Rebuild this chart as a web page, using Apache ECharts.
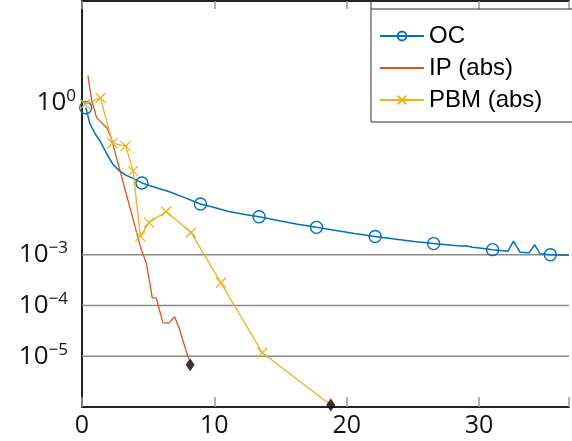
<!DOCTYPE html>
<html><head><meta charset="utf-8">
<script src="https://cdn.jsdelivr.net/npm/echarts@6/dist/echarts.min.js"></script>
<style>html,body{margin:0;padding:0;background:#fff}#c{width:572px;height:441px}</style>
</head><body><div id="c"></div>
<script>
// ---- data ----
const ocX = [0.28,0.35,0.6,1.0,1.35,1.85,2.35,2.8,3.3,3.86,4.53,5.5,6.6,7.8,8.95,10.0,11.1,12.2,13.38,14.9,16.3,17.72,19.2,20.6,22.15,23.6,25.1,26.57,27.8,28.6,29.0,29.5,30.2,31.03,32.18,32.6,33.1,33.8,34.2,34.6,35.39,36.8];
const ocY = [0.79,0.69,0.38,0.24,0.178,0.100,0.060,0.046,0.037,0.032,0.026,0.0214,0.0174,0.0132,0.0100,0.0085,0.0071,0.0063,0.0056,0.0047,0.0040,0.00347,0.00302,0.00263,0.00229,0.00204,0.00182,0.00166,0.00155,0.00148,0.00151,0.00141,0.00135,0.00126,0.00117,0.00186,0.00112,0.00110,0.00158,0.00105,0.00100,0.00098];
const ocMarked = [0,10,14,18,21,24,27,33,40];

const ipX = [0.45,0.73,1.1,1.55,1.9,2.23,4.48,4.86,5.31,5.61,6.11,6.56,7.0,7.37,8.07];
const ipY = [3.4,1.10,0.51,0.38,0.316,0.19,0.00126,0.00069,0.000141,0.000141,0.000046,0.000045,0.000060,0.000034,0.0000087];
const ipEnd = [8.17, 0.0000068];

const pbmX = [0.23,1.4,2.3,3.3,3.86,4.41,5.06,6.36,8.24,10.5,13.63,18.8];
const pbmY = [0.93,1.23,0.158,0.138,0.045,0.0023,0.0043,0.0071,0.00275,0.00028,0.0000117,0.0000011];
const pbmEnd = [18.8, 0.0000011];

const xTicks = [0,10,20,30];
const xRange = [0, 36.8];
const yLabelExps = [0,-3,-4,-5];
const gridValues = [1e-3,1e-4,1e-5];
const names = ['OC','IP (abs)','PBM (abs)'];

// ---- build ----
const ocData = ocX.map((x,i)=> ocMarked.includes(i) ? [x,ocY[i]] : {value:[x,ocY[i]], symbol:'none'});
const ipData = ipX.map((x,i)=>[x,ipY[i]]);
const pbmData = pbmX.map((x,i)=> i===pbmX.length-1 ? {value:[x,pbmY[i]], symbol:'none'} : [x,pbmY[i]]);
const crossPath = 'path://M0,0L10,10M10,0L0,10';
const labelFont = 'Open Sans';

const gridSeries = gridValues.map(v=>({
  name:'grid'+v, type:'line', data:[[xRange[0],v],[xRange[1],v]], symbol:'none', silent:true,
  lineStyle:{color:'#8a8a8a', width:1.5}, z:1
}));

const chart = echarts.init(document.getElementById('c'), null, {renderer:'canvas'});
chart.setOption({
  animation:false,
  backgroundColor:'#fff',
  grid:{left:82, right:0, top:1, bottom:34},
  xAxis:[{
    type:'value', min:xRange[0], max:xRange[1], interval:10,
    axisLine:{show:true, onZero:false, lineStyle:{color:'#222', width:2}},
    axisTick:{show:true, inside:true, length:10, lineStyle:{color:'#999', width:1.5}},
    axisLabel:{show:true, margin:6, fontSize:25, fontFamily:labelFont, color:'#111',
      formatter:v=> xTicks.includes(v) ? String(v) : ''},
    splitLine:{show:false}
  },{
    type:'value', position:'top', min:xRange[0], max:xRange[1], interval:10,
    axisLine:{show:true, onZero:false, lineStyle:{color:'#222', width:2}},
    axisTick:{show:true, inside:true, length:8, lineStyle:{color:'#999', width:1.5}},
    axisLabel:{show:false}, splitLine:{show:false}
  }],
  yAxis:{
    type:'log', logBase:10, min:1e-6, max:1e2,
    axisLine:{show:true, onZero:false, lineStyle:{color:'#222', width:2}},
    axisTick:{show:false},
    splitLine:{show:false},
    axisLabel:{margin:6, color:'#111', fontFamily:labelFont,
      formatter:v=>{ const e=Math.round(Math.log10(v)); if(!yLabelExps.includes(e)) return '';
        return e<0 ? '{b|10}{s|\u2212'+(-e)+'}{p|}' : '{b|10}{s|'+e+'}'; },
      rich:{ b:{fontSize:26, fontFamily:labelFont, color:'#111', lineHeight:30},
             s:{fontSize:17, fontFamily:labelFont, color:'#111', verticalAlign:'top', lineHeight:18},
             p:{width:8} }
    }
  },
  legend:{
    data:names, orient:'vertical', left:371, top:9,
    backgroundColor:'#fff', borderColor:'#333', borderWidth:1, borderRadius:0,
    padding:[15,40,10,8], itemWidth:44, itemHeight:11, itemGap:8,
    textStyle:{fontSize:24, lineHeight:22, fontFamily:'Liberation Sans', color:'#000'}
  },
  graphic:[{type:'line', shape:{x1:371,y1:0,x2:371,y2:9}, style:{stroke:'#333', lineWidth:1}, z:100}],
  series:[
    ...gridSeries,
    {name:'OC', type:'line', data:ocData, symbol:'circle', symbolSize:12, showAllSymbol:true,
     lineStyle:{color:'#0072BD', width:1.5}, itemStyle:{color:'rgba(0,0,0,0)', borderColor:'#0072BD', borderWidth:1.4}, z:3},
    {name:'IP (abs)', type:'line', data:ipData, symbol:'none', showSymbol:false,
     lineStyle:{color:'#D95319', width:1.3}, itemStyle:{color:'rgba(0,0,0,0)', borderWidth:0, borderColor:'rgba(0,0,0,0)'}, z:4},
    {name:'PBM (abs)', type:'line', data:pbmData, symbol:crossPath, symbolSize:10, showAllSymbol:true,
     lineStyle:{color:'#EDB120', width:1.3}, itemStyle:{color:'rgba(0,0,0,0)', borderColor:'#EDB120', borderWidth:1.3}, z:5},
    {name:'end', type:'scatter', data:[ipEnd, pbmEnd], symbol:'diamond', symbolSize:[9,13], clip:false,
     itemStyle:{color:'#000'}, z:6}
  ]
});
</script></body></html>
